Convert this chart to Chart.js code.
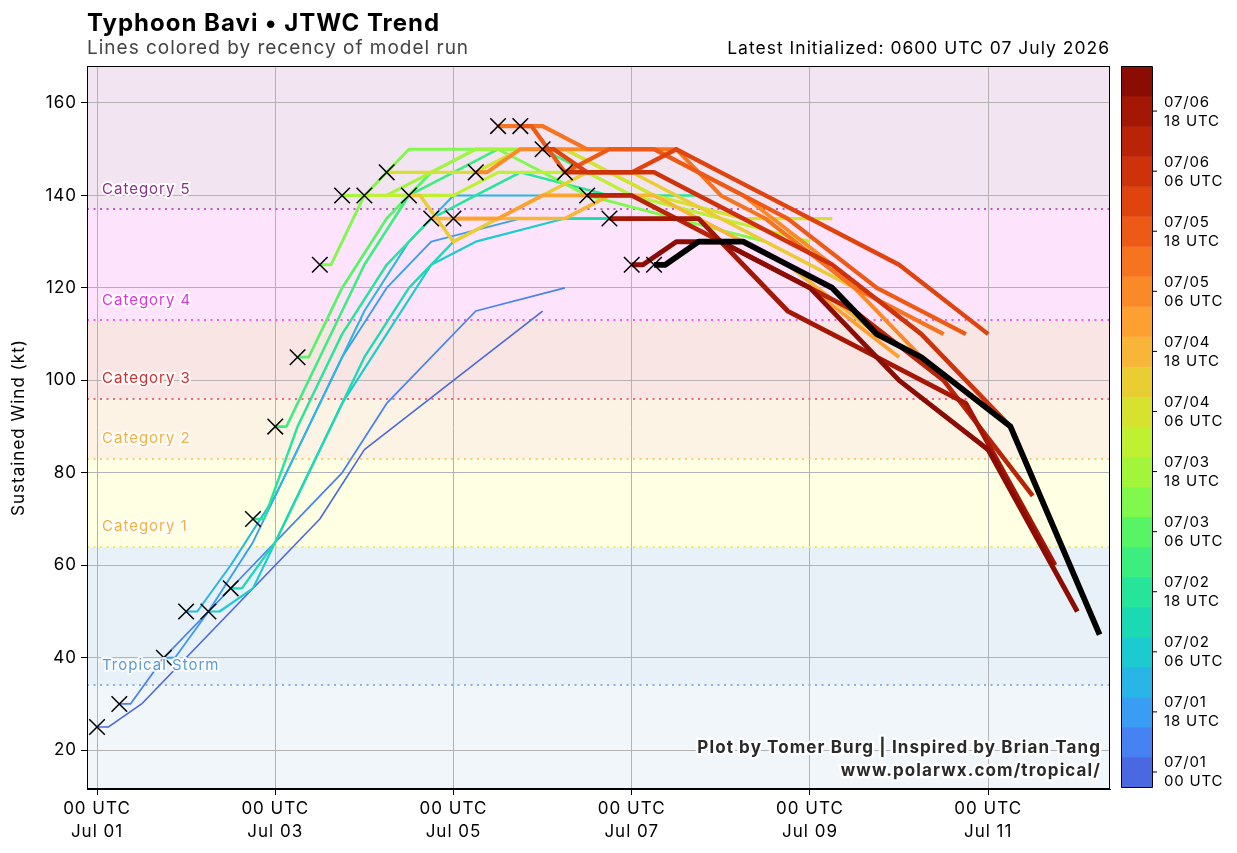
<!DOCTYPE html>
<html>
<head>
<meta charset="utf-8">
<script src="https://cdn.jsdelivr.net/npm/chart.js@4.4.3/dist/chart.umd.min.js"></script>
<style>
  html, body { margin: 0; padding: 0; background: #fff; }
  #wrap { width: 1237px; height: 853px; position: relative; }
</style>
</head>
<body>
<div id="wrap"><canvas id="c" width="1237" height="853"></canvas></div>
<script>
// hours since 00 UTC 01 July for each JTWC run (oldest -> newest)
const runInitHours = [0, 6, 18, 24, 30, 36, 42, 48, 54, 60, 66, 72, 78, 84, 90, 96, 102, 108, 114, 120, 126, 132, 138, 144];
const latestInitHour = 150;
// forecast hours of each point in a run
const forecastTaus = [0, 3, 12, 24, 36, 48, 60, 72, 96, 120];
// forecast sustained wind (kt) for each run at forecastTaus
const runWinds = [
  [25, 25, 30, 40, 50, 60, 70, 85, 100, 115],
  [30, 30, 40, 50, 60, 70, 80, 95, 115, 120],
  [40, 40, 50, 65, 85, 105, 120, 130, 135, 135],
  [50, 50, 60, 75, 95, 115, 130, 140, 140, 140],
  [50, 50, 55, 75, 95, 110, 125, 130, 135, 135],
  [55, 55, 65, 85, 105, 120, 130, 135, 135, 135],
  [70, 70, 90, 110, 125, 135, 140, 145, 140, 140],
  [90, 90, 105, 125, 140, 145, 150, 150, 140, 135],
  [105, 105, 120, 135, 145, 150, 150, 150, 140, 130],
  [125, 125, 140, 150, 150, 150, 145, 140, 135, 130],
  [140, 140, 140, 145, 150, 150, 150, 145, 135, 125],
  [140, 140, 140, 140, 145, 145, 145, 140, 135, 130],
  [145, 145, 145, 145, 150, 150, 145, 140, 135, 135],
  [140, 140, 130, 135, 140, 145, 145, 140, 130, 120],
  [135, 135, 135, 135, 135, 140, 140, 135, 125, 110],
  [135, 135, 135, 140, 140, 140, 135, 130, 120, 105],
  [145, 145, 150, 150, 150, 150, 145, 140, 125, 105],
  [155, 155, 155, 150, 150, 150, 140, 135, 120, 110],
  [155, 155, 145, 150, 150, 145, 140, 135, 120, 110],
  [150, 150, 145, 145, 150, 145, 140, 135, 125, 110],
  [145, 145, 145, 145, 140, 135, 130, 125, 110, 90],
  [140, 140, 140, 135, 130, 125, 120, 115, 100, 75],
  [135, 135, 135, 135, 125, 115, 110, 105, 95, 60],
  [125, 125, 130, 130, 125, 120, 110, 100, 85, 50]
];
const latestWinds = [125, 125, 130, 130, 125, 120, 110, 105, 90, 45];

// intensity categories (kt thresholds)
const categoryNames = ['Tropical Storm', 'Category 1', 'Category 2', 'Category 3', 'Category 4', 'Category 5'];
const categoryThresholds = [34, 64, 83, 96, 113, 137];

const runColors = [
  '#4a68e0', '#4682f2', '#3a9df4', '#29b5e6', '#1ccbcf', '#1bd9b3',
  '#26e59a', '#3ded80', '#57f466', '#80f84c', '#a3f53c', '#c0f032',
  '#d6e22f', '#eacc33', '#f7b637', '#fca031', '#fa8a27', '#f6731f',
  '#ed5a16', '#df440f', '#cd320a', '#b92307', '#a31704', '#8b0c02'
];
const bandColors = ['#f1f6fb', '#e8f0f8', '#ffffe4', '#fdf3e5', '#fae5e5', '#fde4fc', '#f2e4f0'];
const lineColors = ['#86b4e4', '#ecec5a', '#fbcd68', '#ee6c6c', '#f25ce6', '#c05ac0'];
const labelColors = ['#5b9bd8', '#f5b042', '#f5b042', '#d42e2e', '#e232de', '#8e2e8e'];

const FONT = 'Inter, "DejaVu Sans", sans-serif';

function haloText(ctx, text, x, y, color, lw) {
  ctx.lineJoin = 'round';
  ctx.strokeStyle = 'rgba(255,255,255,0.9)';
  ctx.lineWidth = lw;
  ctx.strokeText(text, x, y);
  ctx.fillStyle = color;
  ctx.fillText(text, x, y);
}

const backgroundPlugin = {
  id: 'bands',
  beforeDraw(chart) {
    const { ctx, chartArea: a, scales: { y } } = chart;
    ctx.save();
    ctx.fillStyle = '#fff';
    ctx.fillRect(0, 0, chart.width, chart.height);
    const edges = [y.min, ...categoryThresholds, y.max];
    for (let i = 0; i < bandColors.length; i++) {
      const top = y.getPixelForValue(edges[i + 1]);
      const bot = y.getPixelForValue(edges[i]);
      ctx.fillStyle = bandColors[i];
      ctx.fillRect(a.left, top, a.right - a.left, bot - top);
    }
    ctx.restore();
    // wider lettering for the axis tick labels
    ctx.letterSpacing = '1px';
  },
  beforeDatasetsDraw(chart) {
    const { ctx, chartArea: a, scales: { y } } = chart;
    ctx.save();
    ctx.lineWidth = 2;
    ctx.setLineDash([2, 4.5]);
    categoryThresholds.forEach((t, i) => {
      const py = Math.round(y.getPixelForValue(t));
      ctx.strokeStyle = lineColors[i];
      ctx.beginPath();
      ctx.moveTo(a.left, py);
      ctx.lineTo(a.right, py);
      ctx.stroke();
    });
    ctx.restore();
  },
  afterDatasetsDraw(chart) {
    const { ctx, chartArea: a, scales: { y } } = chart;
    ctx.save();
    ctx.font = '15px ' + FONT;
    ctx.letterSpacing = '1px';
    ctx.textBaseline = 'middle';
    ctx.textAlign = 'left';
    categoryThresholds.forEach((t, i) => {
      const py = y.getPixelForValue(t) - 20;
      haloText(ctx, categoryNames[i], a.left + 15, py, labelColors[i], 4);
    });
    ctx.restore();
  }
};

const framePlugin = {
  id: 'frame',
  afterDraw(chart) {
    const { ctx, chartArea: a } = chart;
    ctx.save();
    ctx.strokeStyle = '#000';
    ctx.lineWidth = 1;
    ctx.strokeRect(a.left + 0.5, a.top + 0.5, a.right - a.left - 1, a.bottom - a.top - 1);

    // titles
    ctx.textBaseline = 'alphabetic';
    ctx.textAlign = 'left';
    ctx.fillStyle = '#000';
    ctx.letterSpacing = '1px';
    ctx.font = 'bold 24px ' + FONT;
    ctx.fillText('Typhoon Bavi \u2022 JTWC Trend', a.left, 31);
    ctx.fillStyle = '#444';
    ctx.font = '19px ' + FONT;
    ctx.fillText('Lines colored by recency of model run', a.left, 54);
    ctx.textAlign = 'right';
    ctx.fillStyle = '#000';
    ctx.font = '17.5px ' + FONT;
    ctx.fillText('Latest Initialized: 0600 UTC 07 July 2026', a.right, 54);

    // credits
    ctx.letterSpacing = '1.1px';
    ctx.font = 'bold 17px ' + FONT;
    haloText(ctx, 'Plot by Tomer Burg | Inspired by Brian Tang', a.right - 9, 753, '#2a2a2a', 5);
    haloText(ctx, 'www.polarwx.com/tropical/', a.right - 9, 776, '#2a2a2a', 5);

    // colorbar
    const x0 = a.right + 11, w = 31, top = a.top, bot = a.bottom - 2;
    const n = runColors.length, seg = (bot - top) / n;
    runColors.forEach((c, i) => {
      ctx.fillStyle = c;
      ctx.fillRect(x0, bot - (i + 1) * seg, w, seg + 0.5);
    });
    ctx.strokeStyle = '#000';
    ctx.lineWidth = 1;
    ctx.strokeRect(x0 + 0.5, top + 0.5, w, bot - top);
    ctx.letterSpacing = '0.8px';
    ctx.font = '15px ' + FONT;
    ctx.textAlign = 'left';
    ctx.textBaseline = 'middle';
    ctx.fillStyle = '#000';
    runInitHours.forEach((h, i) => {
      if (i % 2) return;
      const cy = bot - (i + 0.5) * seg;
      ctx.beginPath();
      ctx.moveTo(x0 + w, cy);
      ctx.lineTo(x0 + w + 5, cy);
      ctx.stroke();
      const day = String(1 + Math.floor(h / 24)).padStart(2, '0');
      const hr = String(h % 24).padStart(2, '0');
      ctx.fillText('07/' + day, x0 + 43, cy - 9);
      ctx.fillText(hr + ' UTC', x0 + 43, cy + 10);
    });
    ctx.restore();
  }
};

const datasets = runInitHours.map((h0, i) => ({
  label: 'run ' + h0,
  data: forecastTaus.map((t, k) => ({ x: h0 + t, y: runWinds[i][k] })),
  showLine: true,
  borderColor: runColors[i],
  borderWidth: 1.6 + i * 0.145,
  borderJoinStyle: 'round',
  pointRadius: 0,
  order: 100 - i
}));
datasets.push({
  label: 'latest',
  data: forecastTaus.map((t, k) => ({ x: latestInitHour + t, y: latestWinds[k] })),
  showLine: true,
  borderColor: '#000',
  borderWidth: 5.8,
  borderJoinStyle: 'round',
  pointRadius: 0,
  order: 1
});
datasets.push({
  label: 'init',
  data: runInitHours.map((h, i) => ({ x: h, y: runWinds[i][0] }))
    .concat([{ x: latestInitHour, y: latestWinds[0] }]),
  showLine: false,
  pointStyle: 'crossRot',
  pointRadius: 11,
  borderColor: '#000',
  borderWidth: 1.5,
  order: 0
});

new Chart(document.getElementById('c'), {
  type: 'scatter',
  data: { datasets },
  options: {
    responsive: false,
    devicePixelRatio: 1,
    animation: false,
    layout: { padding: { top: 66, right: 127, left: 0, bottom: 0 } },
    plugins: { legend: { display: false }, tooltip: { enabled: false } },
    scales: {
      x: {
        type: 'linear',
        min: -2.7,
        max: 272.8,
        afterFit: s => { s.height = 64; },
        border: { color: '#000' },
        grid: { color: '#b3b3b3', tickColor: '#000', tickLength: 6 },
        ticks: {
          stepSize: 48,
          includeBounds: false,
          color: '#000',
          padding: 2,
          maxRotation: 0,
          font: { family: FONT, size: 17, lineHeight: 1.35 },
          callback: v => ['00 UTC', 'Jul ' + String(1 + v / 24).padStart(2, '0')]
        }
      },
      y: {
        min: 11.6,
        max: 168,
        afterFit: s => { s.width = 87; },
        border: { color: '#000' },
        grid: { color: '#b3b3b3', tickColor: '#000', tickLength: 6 },
        title: { display: true, text: 'Sustained Wind (kt)', color: '#000', font: { family: FONT, size: 17 }, padding: { top: 9, bottom: 0 } },
        ticks: {
          stepSize: 20,
          includeBounds: false,
          color: '#000',
          padding: 4,
          font: { family: FONT, size: 17 }
        }
      }
    }
  },
  plugins: [backgroundPlugin, framePlugin]
});
</script>
</body>
</html>
